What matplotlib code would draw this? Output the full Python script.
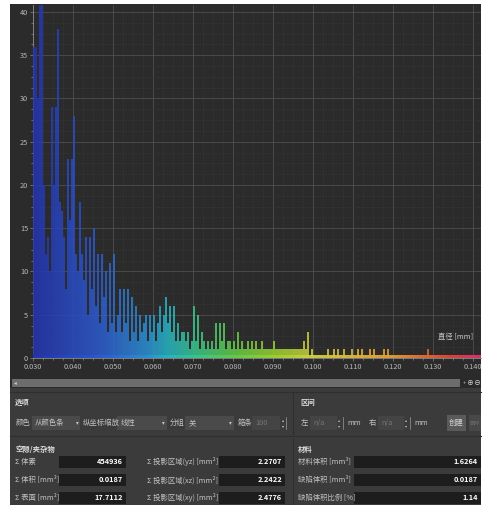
import numpy as np
import matplotlib
matplotlib.use('Agg')
import matplotlib.pyplot as plt
from matplotlib.colors import LinearSegmentedColormap, Normalize
from matplotlib.patches import Rectangle
from matplotlib.ticker import MultipleLocator

plt.rcParams['font.family'] = ['Noto Sans CJK SC', 'DejaVu Sans']

# 直方图：直径分箱 (mm)，每箱 0.0005 mm
bin_start = 0.030
bin_width = 0.0005
counts = [
    36, 36, 30, 45, 45, 20, 12, 14, 10, 29,
    20, 29, 38, 18, 17, 14, 8, 23, 16, 23,
    28, 12, 10, 18, 12, 9, 14, 5, 14, 8,
    15, 6, 12, 4, 12, 7, 10, 3, 11, 4,
    12, 3, 5, 8, 3, 8, 4, 8, 2, 7,
    3, 6, 2, 5, 3, 4, 5, 2, 5, 3,
    5, 2, 4, 6, 3, 5, 7, 4, 6, 3,
    6, 2, 4, 2, 3, 3, 2, 3, 1, 2,
    6, 2, 5, 1, 3, 2, 1, 2, 1, 2,
    1, 4, 1, 4, 2, 4, 1, 2, 2, 1,
    2, 1, 3, 1, 2, 1, 1, 2, 1, 2,
    1, 2, 1, 1, 2, 1, 1, 1, 1, 1,
    2, 1, 1, 1, 1, 1, 1, 1, 1, 1,
    1, 1, 1, 1, 1, 2, 1, 3, 0, 1,
    0, 0, 0, 0, 0, 0, 0, 1, 0, 0,
    1, 0, 1, 0, 0, 1, 0, 0, 0, 1,
    0, 0, 1, 0, 1, 0, 0, 0, 1, 0,
    1, 0, 0, 0, 0, 1, 0, 1, 0, 0,
    0, 0, 0, 0, 0, 0, 0, 0, 0, 0,
    0, 0, 0, 0, 0, 0, 0, 1, 0, 0,
    0, 0, 0, 0, 0, 0, 0, 0, 0, 0,
    0, 0, 0, 0, 0, 0, 0, 0, 0, 0,
    0, 0, 0, 0,
]
x_ticks = [0.030, 0.040, 0.050, 0.060, 0.070, 0.080, 0.090,
           0.100, 0.110, 0.120, 0.130, 0.140]
y_ticks = [0, 5, 10, 15, 20, 25, 30, 35, 40]

# 统计面板
void_labels = ['Σ 体素', 'Σ 体积 [mm³]', 'Σ 表面 [mm²]']
void_values = ['454936', '0.0187', '17.7112']
proj_labels = ['Σ 投影区域(yz) [mm²]', 'Σ 投影区域(xz) [mm²]', 'Σ 投影区域(xy) [mm²]']
proj_values = ['2.2707', '2.2422', '2.4776']
mat_labels = ['材料体积 [mm³]', '缺陷体积 [mm³]', '缺陷体积比例 [%]']
mat_values = ['1.6264', '0.0187', '1.14']

W, H = 483, 505
fig = plt.figure(figsize=(W / 100, H / 100), dpi=100, facecolor='white')

# 整个界面用像素坐标绘制
ui = fig.add_axes([0, 0, 1, 1])
ui.set_xlim(0, W)
ui.set_ylim(H, 0)
ui.axis('off')

TXT = '#c4c4c4'
FS = 5.3


def box(x0, y0, x1, y1, color, **kw):
    ui.add_patch(Rectangle((x0, y0), x1 - x0, y1 - y0, facecolor=color,
                           edgecolor=kw.pop('ec', 'none'), lw=kw.pop('lw', 0), **kw))


def label(x, y, s, **kw):
    kw.setdefault('color', TXT)
    kw.setdefault('fontsize', FS)
    kw.setdefault('va', 'center')
    ui.text(x, y, s, **kw)


# 图表背景与滚动条
box(10, 4, 481, 378, '#2b2b2b')
box(10, 378, 481, 388, '#2a2a2a')
box(12, 379, 460, 387, '#6d6d6d')
label(15, 383, '◂', fontsize=4, color='#d0d0d0', ha='center')
label(464, 383, '+', fontsize=4, color='#d0d0d0', ha='center')
label(470, 383, '⊕', fontsize=5, color='#d0d0d0', ha='center')
label(477, 383, '⊖', fontsize=5, color='#d0d0d0', ha='center')

# 下方面板
box(10, 388, 481, 505, '#3b3b3b')
ui.plot([10, 481], [392, 392], color='#2f2f2f', lw=0.8)
ui.plot([10, 481], [436, 436], color='#2f2f2f', lw=0.8)
ui.plot([293, 293], [393, 434], color='#2f2f2f', lw=0.8)
ui.plot([293, 293], [439, 505], color='#2f2f2f', lw=0.8)

label(15, 402, '选项', fontweight='bold', color='#dcdcdc')
label(300, 402, '区间', fontweight='bold', color='#dcdcdc')

row_y = 423
label(16, row_y, '颜色')
box(32, 416, 80, 430, '#4a4a4a')
label(35, row_y, '从颜色条')
label(77, row_y, '▾', fontsize=4, ha='center')
label(83, row_y, '纵坐标缩放')
box(117, 416, 167, 430, '#4a4a4a')
label(121, row_y, '线性')
label(163, row_y, '▾', fontsize=4, ha='center')
label(170, row_y, '分组')
box(185, 416, 234, 430, '#4a4a4a')
label(189, row_y, '关')
label(230, row_y, '▾', fontsize=4, ha='center')
label(238, row_y, '箱条')
box(252, 416, 280, 430, '#444444')
label(255, row_y, '100', color='#767676')
label(283, row_y - 3, '▴', fontsize=3, ha='center')
label(283, row_y + 3, '▾', fontsize=3, ha='center')
ui.plot([286, 286], [417, 429], color='#9a9a9a', lw=0.5)

label(301, row_y, '左')
box(310, 416, 337, 430, '#444444')
label(313, row_y, 'n/a', color='#767676')
label(339, row_y - 3, '▴', fontsize=3, ha='center')
label(339, row_y + 3, '▾', fontsize=3, ha='center')
ui.plot([343, 343], [417, 429], color='#9a9a9a', lw=0.5)
label(347, row_y, 'mm')
label(369, row_y, '右')
box(378, 416, 404, 430, '#444444')
label(381, row_y, 'n/a', color='#767676')
label(406, row_y - 3, '▴', fontsize=3, ha='center')
label(406, row_y + 3, '▾', fontsize=3, ha='center')
ui.plot([410, 410], [417, 429], color='#9a9a9a', lw=0.5)
label(414, row_y, 'mm')
box(447, 415, 466, 431, '#5a5a5a')
label(456.5, row_y, '创建', ha='center', color='#d8d8d8')
box(469, 415, 481, 431, '#484848')
label(475, row_y, '删除', ha='center', fontsize=3.8, color='#707070')

label(15, 449, '空隙/夹杂物', fontweight='bold', color='#dcdcdc')
label(298, 449, '材料', fontweight='bold', color='#dcdcdc')

rows = [462, 480, 498]
for yy, lab, val in zip(rows, void_labels, void_values):
    label(15, yy, lab)
    box(59, yy - 6, 126, yy + 6, '#1d1d1d')
    label(123, yy, val, ha='right', color='white', fontweight='bold')
for yy, lab, val in zip(rows, proj_labels, proj_values):
    label(147, yy, lab)
    box(219, yy - 6, 285, yy + 6, '#1d1d1d')
    label(282, yy, val, ha='right', color='white', fontweight='bold')
for yy, lab, val in zip(rows, mat_labels, mat_values):
    label(298, yy, lab)
    box(354, yy - 6, 481, yy + 6, '#1d1d1d')
    label(478, yy, val, ha='right', color='white', fontweight='bold')

# 直方图
x_min, x_max = 0.030, 0.142
y_max = 40.8
px_l, px_r, px_top, px_bot = 33, 481, 5, 358
ax = fig.add_axes([px_l / W, 1 - px_bot / H, (px_r - px_l) / W, (px_bot - px_top) / H])
ax.set_facecolor('#2b2b2b')

cmap = LinearSegmentedColormap.from_list('dia', [
    (0.00, '#2434b0'), (0.15, '#2c5cd0'), (0.25, '#2a8ed4'),
    (0.30, '#26b4c4'), (0.36, '#38c690'), (0.45, '#64cc48'),
    (0.55, '#a2d032'), (0.63, '#d2d040'), (0.80, '#e4a036'),
    (0.93, '#e04838'), (1.00, '#e03070')])
norm = Normalize(x_min, x_max)

edges = bin_start + bin_width * np.arange(len(counts))
centers = edges + bin_width / 2
ax.bar(edges, counts, width=bin_width, align='edge', color=cmap(norm(centers)),
       alpha=0.85, linewidth=0, zorder=3)

# 底部色带
grad = np.linspace(0, 1, 256).reshape(1, -1)
ax.imshow(grad, cmap=cmap, aspect='auto', extent=[x_min, x_max, 0, 0.28],
          zorder=4, alpha=0.95)

ax.set_xlim(x_min, x_max)
ax.set_ylim(0, y_max)
ax.set_xticks(x_ticks)
ax.set_xticklabels([f'{t:.3f}' for t in x_ticks])
ax.set_yticks(y_ticks)
ax.xaxis.set_minor_locator(MultipleLocator(0.0025))
ax.yaxis.set_minor_locator(MultipleLocator(1.25))
ax.grid(which='major', color='#4e4e4e', lw=0.6, zorder=0)
ax.grid(which='minor', color='#3a3a3a', lw=0.5, ls=(0, (2, 2)), zorder=0)
ax.set_axisbelow(True)
ax.tick_params(which='both', colors='#8a8a8a', labelcolor='#b8b8b8',
               labelsize=5.3, length=2, width=0.5, pad=1.5)
ax.tick_params(which='minor', length=1.2)
for side in ['top', 'right']:
    ax.spines[side].set_visible(False)
ax.spines['left'].set_color('#8a8a8a')
ax.spines['bottom'].set_color('#8a8a8a')
ax.spines['left'].set_linewidth(0.6)
ax.spines['bottom'].set_linewidth(0.6)

ax.text(0.140, 2.0, '直径 [mm]', ha='right', va='bottom', fontsize=5.3, color='#c8c8c8', zorder=5)

fig.savefig('out.png', dpi=100, facecolor='white')
